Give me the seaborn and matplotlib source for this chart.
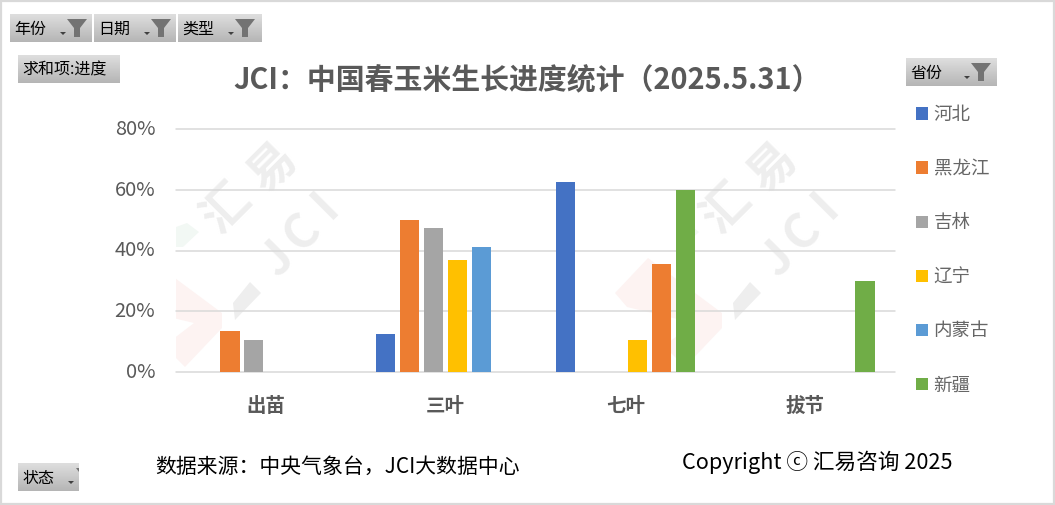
import numpy as np
import pandas as pd
import matplotlib.pyplot as plt
import seaborn as sns
from matplotlib.patches import Polygon, Rectangle
from matplotlib.ticker import PercentFormatter
from matplotlib.transforms import ScaledTranslation

categories = ['出苗', '三叶', '七叶', '拔节']
provinces = ['河北', '黑龙江', '吉林', '辽宁', '内蒙古', '新疆']
hebei = [np.nan, 0.125, 0.625, np.nan]
heilongjiang = [0.135, 0.50, np.nan, np.nan]
jilin = [0.105, 0.475, np.nan, np.nan]
liaoning = [np.nan, 0.37, 0.105, np.nan]
neimenggu = [np.nan, 0.41, 0.355, np.nan]
xinjiang = [np.nan, np.nan, 0.60, 0.30]
yticks = [0, 0.2, 0.4, 0.6, 0.8]
colors = ['#4472C4', '#ED7D31', '#A5A5A5', '#FFC000', '#5B9BD5', '#70AD47']

W, H = 1055, 505
TEXT_GRAY = '#595959'
MARK_GRAY = '#eeeeee'

sns.set_theme(style='white')
plt.rcParams['font.family'] = ['Noto Sans CJK SC', 'DejaVu Sans']

df = pd.DataFrame([hebei, heilongjiang, jilin, liaoning, neimenggu, xinjiang],
                  index=provinces, columns=categories)
df = df.rename_axis('省份').reset_index().melt(id_vars='省份', var_name='阶段', value_name='进度')
df = df.dropna()

fig = plt.figure(figsize=(W / 100, H / 100), dpi=100, facecolor='white')
pos = [176 / W, (H - 372) / H, (895 - 176) / W, (372 - 129) / H]

# watermark sits under the plot, clipped to the plot area
wm = fig.add_axes(pos, zorder=0)
wm.set_xlim(176, 895)
wm.set_ylim(372, 129)
wm.axis('off')
for dx in [0, 500]:
    wm.add_patch(Polygon([(115 + dx, 293), (148 + dx, 258), (222 + dx, 313), (222 + dx, 328),
                          (185 + dx, 367), (164 + dx, 346), (194 + dx, 323), (127 + dx, 307)],
                         color='#fdf3f2', lw=0))
    wm.add_patch(Polygon([(176 + dx, 227), (187 + dx, 223), (199 + dx, 232), (183 + dx, 247), (176 + dx, 247)],
                         color='#f2f8f4', lw=0))
    wm.add_patch(Polygon([(250 + dx, 282), (261 + dx, 293), (235 + dx, 320), (233 + dx, 303)],
                         color=MARK_GRAY, lw=0))
    for label, x, y in [('汇', 226, 208), ('易', 273, 167), ('J', 277, 258), ('C', 302, 233), ('I', 325, 205)]:
        wm.text(x + dx, y, label, rotation=45, fontsize=34, fontweight='bold', color=MARK_GRAY,
                ha='center', va='center', clip_on=True)

ax = fig.add_axes(pos, zorder=1)
ax.patch.set_visible(False)
sns.barplot(data=df, x='阶段', y='进度', hue='省份', order=categories, hue_order=provinces,
            palette=colors, saturation=1, width=0.8, gap=0.2, linewidth=0, ax=ax)
# the 七叶 bar of 内蒙古 is orange in the original
ax.containers[4][-1].set_facecolor(colors[1])

ax.set_xlim(-0.5, 3.5)
ax.set_ylim(0, 0.8)
ax.set_yticks(yticks)
ax.yaxis.set_major_formatter(PercentFormatter(1, decimals=0))
ax.set_xlabel('')
ax.set_ylabel('')
ax.grid(axis='y', color='#d9d9d9', lw=1.1)
ax.set_axisbelow(True)
for line in ax.get_ygridlines():
    line.set_clip_on(False)
sns.despine(ax=ax, left=True, top=True, right=True, bottom=True)
ax.tick_params(axis='y', length=0, pad=15, labelsize=14.4, labelcolor=TEXT_GRAY)
ax.tick_params(axis='x', length=0, pad=18, labelsize=14, labelcolor=TEXT_GRAY)
for t in ax.get_xticklabels():
    t.set_fontweight('bold')
lift = ScaledTranslation(0, 1.5 / 72, fig.dpi_scale_trans)
for t in ax.get_yticklabels():
    t.set_transform(t.get_transform() + lift)

sns.move_legend(ax, 'upper left', bbox_to_anchor=(916 / W, 1 - 106 / H), bbox_transform=fig.transFigure,
                frameon=False, title=None, fontsize=13.3, labelcolor='#666666', labelspacing=1.955,
                handlelength=0.65, handleheight=0.65, handletextpad=0.3, borderpad=0, borderaxespad=0)

# pixel overlay for the pivot chart buttons, title and footer
top = fig.add_axes([0, 0, 1, 1], zorder=3)
top.patch.set_visible(False)
top.axis('off')
grad = np.linspace(0.87, 0.71, 32).reshape(-1, 1)


def button(x0, y0, x1, y1, label, funnel_x=None, arrow_x=None):
    top.imshow(grad, extent=(x0, x1, y1, y0), cmap='gray', vmin=0, vmax=1, aspect='auto', zorder=1)
    top.text(x0 + 4, (y0 + y1) / 2 + 1, label, fontsize=11.5, color='black', ha='left', va='center', zorder=3)
    if funnel_x is not None:
        f = funnel_x
        top.add_patch(Polygon([(f, y0 + 5), (f + 20, y0 + 5), (f + 13, y0 + 14), (f + 13, y0 + 23),
                               (f + 7, y0 + 23), (f + 7, y0 + 14)], color='#737373', lw=0, zorder=2))
    if arrow_x is not None:
        top.add_patch(Polygon([(arrow_x, y0 + 18), (arrow_x + 6, y0 + 18), (arrow_x + 3, y0 + 21)],
                              color='#404040', lw=0, zorder=2))


button(10, 14, 92, 42, '年份', 67, 60)
button(94, 14, 176, 42, '日期', 151, 144)
button(178, 14, 262, 42, '类型', 235, 228)
button(18, 55, 120, 83, '求和项:进度')
button(906, 58, 997, 86, '省份', 971, 964)
button(18, 463, 79, 491, '状态', None, 68)
top.add_patch(Polygon([(76, 468), (79, 468), (79, 472)], color='#737373', lw=0, zorder=2))

top.set_xlim(0, W)
top.set_ylim(H, 0)

top.add_patch(Rectangle((1, 1), W - 2, H - 2, fill=False, ec='#d9d9d9', lw=1.6))
top.text(527.5, 79, 'JCI：中国春玉米生长进度统计（2025.5.31）', fontsize=20.8, fontweight='bold',
         color=TEXT_GRAY, ha='center', va='center')
top.text(155, 467, '数据来源：中央气象台，JCI大数据中心', fontsize=15, color='black', ha='left', va='center')
top.text(682, 462, 'Copyright ⓒ 汇易咨询 2025', fontsize=15.6, color='black', ha='left', va='center')

fig.savefig('out.png', dpi=100)
